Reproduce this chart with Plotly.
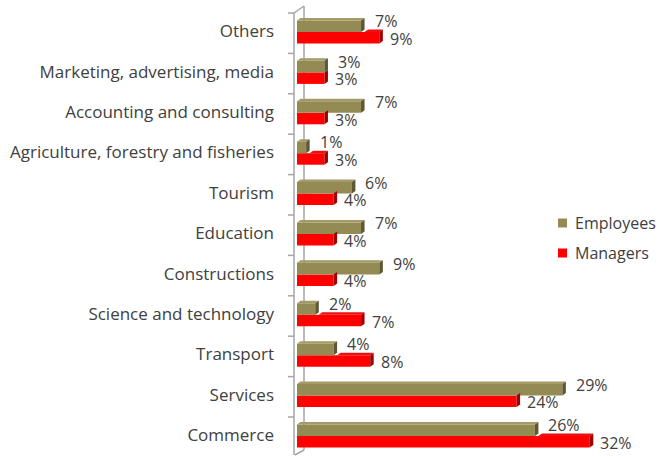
import plotly.graph_objects as go

# Sectors, listed bottom to top as they appear on the chart
categories = [
    "Commerce",
    "Services",
    "Transport",
    "Science and technology",
    "Constructions",
    "Education",
    "Tourism",
    "Agriculture, forestry and fisheries",
    "Accounting and consulting",
    "Marketing, advertising, media",
    "Others",
]
employees = [26, 29, 4, 2, 9, 7, 6, 1, 7, 3, 7]
managers = [32, 24, 8, 7, 4, 4, 4, 3, 3, 3, 9]
series_names = ["Employees", "Managers"]

EMP_COLOR = "#948A54"
EMP_SIDE = "#5E5733"
EMP_TOP = "#A39A68"
MGR_COLOR = "#FF0000"
MGR_SIDE = "#A00000"
MGR_TOP = "#EE1010"
TEXT_COLOR = "#404040"
WALL_COLOR = "#A6A6A6"
FONT = "Open Sans, Liberation Sans, Arial, sans-serif"

# Canvas geometry (pixels) used to map the pseudo-3D depth into data units
W, H = 662, 456
PX_PER_PCT = 9.15
ZERO_PX = 297
LEFT_PX = 287
PX_PER_CAT = 40.4
TOP_BOUNDARY_PX = 13

x_min = (LEFT_PX - ZERO_PX) / PX_PER_PCT
x_max = (W - ZERO_PX) / PX_PER_PCT
n = len(categories)
y_top = (n - 0.5) + TOP_BOUNDARY_PX / PX_PER_CAT
y_bot = (n - 0.5) - (H - TOP_BOUNDARY_PX) / PX_PER_CAT

ypos = list(range(n))
BAR_W = 0.285
SPLIT = 0.03          # bars sit slightly above the band centre
DX = 3.5 / PX_PER_PCT  # depth of the 3D extrusion, horizontally
DY = 2.5 / PX_PER_CAT  # depth of the 3D extrusion, vertically


def side_faces(values, lows):
    xs, ys = [], []
    for v, y0 in zip(values, lows):
        y1 = y0 + BAR_W
        xs += [v, v + DX, v + DX, v, v, None]
        ys += [y0, y0 + DY, y1 + DY, y1, y0, None]
    return xs, ys


def top_faces(values, lows, starts):
    xs, ys = [], []
    for v, y0, s in zip(values, lows, starts):
        if v <= s:
            continue
        y1 = y0 + BAR_W
        xs += [s, s + DX, v + DX, v, s, None]
        ys += [y1, y1 + DY, y1 + DY, y1, y1, None]
    return xs, ys


emp_low = [p + SPLIT for p in ypos]
mgr_low = [p + SPLIT - BAR_W for p in ypos]

fig = go.Figure()

# Managers: front faces, then the visible parts of their top and side faces
fig.add_trace(go.Bar(
    x=managers, y=mgr_low, base=0,
    orientation="h", width=BAR_W, offset=0,
    marker=dict(color=MGR_COLOR, line=dict(width=0)),
    name=series_names[1], showlegend=False,
))
tx, ty = top_faces(managers, mgr_low, [e + DX for e in employees])
fig.add_trace(go.Scatter(x=tx, y=ty, mode="lines", fill="toself",
                         fillcolor=MGR_TOP, line=dict(width=0),
                         showlegend=False, hoverinfo="skip"))
sx, sy = side_faces(managers, mgr_low)
fig.add_trace(go.Scatter(x=sx, y=sy, mode="lines", fill="toself",
                         fillcolor=MGR_SIDE, line=dict(width=0),
                         showlegend=False, hoverinfo="skip"))

# Employees
fig.add_trace(go.Bar(
    x=employees, y=emp_low, base=0,
    orientation="h", width=BAR_W, offset=0,
    marker=dict(color=EMP_COLOR, line=dict(width=0)),
    name=series_names[0], showlegend=False,
))
tx, ty = top_faces(employees, emp_low, [0] * n)
fig.add_trace(go.Scatter(x=tx, y=ty, mode="lines", fill="toself",
                         fillcolor=EMP_TOP, line=dict(width=0),
                         showlegend=False, hoverinfo="skip"))
sx, sy = side_faces(employees, emp_low)
fig.add_trace(go.Scatter(x=sx, y=sy, mode="lines", fill="toself",
                         fillcolor=EMP_SIDE, line=dict(width=0),
                         showlegend=False, hoverinfo="skip"))

# Value labels
annotations = []
for p, e, m in zip(ypos, employees, managers):
    annotations.append(dict(
        x=e + DX, y=p + SPLIT + BAR_W / 2, xref="x", yref="y",
        text=f"{e}%", showarrow=False, xanchor="left", yanchor="middle",
        xshift=8, yshift=5, font=dict(family=FONT, size=16, color=TEXT_COLOR),
    ))
    annotations.append(dict(
        x=m + DX, y=p + SPLIT - BAR_W / 2, xref="x", yref="y",
        text=f"{m}%", showarrow=False, xanchor="left", yanchor="middle",
        xshift=5, yshift=-1, font=dict(family=FONT, size=16, color=TEXT_COLOR),
    ))

# Side wall of the 3D frame with its category tick marks
front_x = (294 - ZERO_PX) / PX_PER_PCT
back_x = (304 - ZERO_PX) / PX_PER_PCT
wall_top_front = n - 0.5
wall_bot_front = (n - 0.5) - (455 - TOP_BOUNDARY_PX) / PX_PER_CAT
wall_top_back = wall_top_front + 7 / PX_PER_CAT
wall_bot_back = (n - 0.5) - (450 - TOP_BOUNDARY_PX) / PX_PER_CAT
line = dict(color=WALL_COLOR, width=1.5)
shapes = [
    dict(type="line", xref="x", yref="y", x0=front_x, x1=front_x,
         y0=wall_bot_front, y1=wall_top_front, line=line, layer="below"),
    dict(type="line", xref="x", yref="y", x0=back_x, x1=back_x,
         y0=wall_bot_back, y1=wall_top_back, line=line, layer="below"),
    dict(type="line", xref="x", yref="y", x0=front_x, x1=back_x,
         y0=wall_top_front, y1=wall_top_back, line=line, layer="below"),
    dict(type="line", xref="x", yref="y", x0=front_x + 1 / PX_PER_PCT, x1=back_x,
         y0=wall_bot_front, y1=wall_bot_back, line=line, layer="below"),
]
for k in range(n):
    yb = k + 0.5
    shapes.append(dict(type="line", xref="x", yref="y",
                       x0=(288 - ZERO_PX) / PX_PER_PCT, x1=front_x,
                       y0=yb, y1=yb, line=line, layer="below"))

# Legend: colour swatch plus label, one row per series
PW = W - LEFT_PX


def px_x(px):
    return (px - LEFT_PX) / PW


def px_y(py):
    return 1 - py / H


legend_rows = [(series_names[0], EMP_COLOR, 223), (series_names[1], MGR_COLOR, 253)]
for name, color, cy in legend_rows:
    shapes.append(dict(type="rect", xref="paper", yref="paper",
                       x0=px_x(558), x1=px_x(567),
                       y0=px_y(cy + 4.5), y1=px_y(cy - 4.5),
                       fillcolor=color, line=dict(width=0)))
    annotations.append(dict(x=px_x(573), y=px_y(cy), xref="paper", yref="paper",
                            text=name, showarrow=False, xanchor="left",
                            yanchor="middle",
                            font=dict(family=FONT, size=16, color=TEXT_COLOR)))

fig.update_layout(
    width=W, height=H,
    margin=dict(l=LEFT_PX, r=0, t=0, b=0, autoexpand=False),
    paper_bgcolor="white", plot_bgcolor="white",
    barmode="overlay",
    font=dict(family=FONT, color=TEXT_COLOR),
    xaxis=dict(range=[x_min, x_max], visible=False, fixedrange=True,
               automargin=False),
    yaxis=dict(range=[y_bot, y_top], tickmode="array", tickvals=ypos,
               ticktext=categories, showgrid=False, zeroline=False,
               showline=False, ticks="", ticklabelstandoff=12,
               ticklabelshift=-2, automargin=False,
               tickfont=dict(family=FONT, size=17, color=TEXT_COLOR),
               fixedrange=True),
    shapes=shapes,
    annotations=annotations,
    showlegend=False,
)

fig.write_html("out.html")
